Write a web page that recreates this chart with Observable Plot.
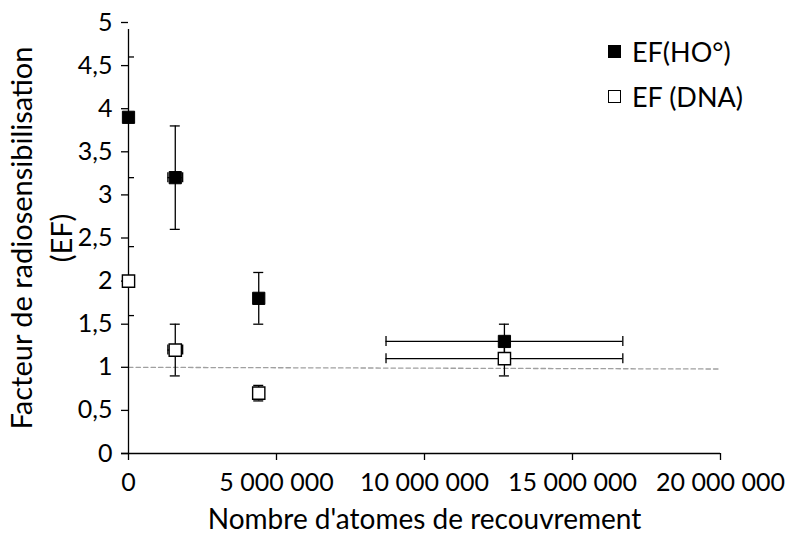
<!DOCTYPE html>
<html><head><meta charset="utf-8">
<script src="https://cdn.jsdelivr.net/npm/d3@7"></script>
<script src="https://cdn.jsdelivr.net/npm/@observablehq/plot@0.6"></script>
<style>
body{margin:0;background:#fff;font-family:Lato, sans-serif;}
#wrap{position:relative;width:785px;height:537px;overflow:hidden;}
.leg{position:absolute;left:608px;display:flex;align-items:center;font-size:27px;color:#000;height:27px;line-height:27px;white-space:nowrap;}
.sw{width:13px;height:13px;border:1.4px solid #000;margin-right:11px;box-sizing:border-box;}
</style></head><body><div id="wrap"></div>
<script>
// ---- data ----
const seriesNames = ["EF(HO°)", "EF (DNA)"];
const atoms = [0, 1580000, 4400000, 12700000];
const atomsErr = [0, 250000, 0, 4000000];
const efHO = [3.9, 3.2, 1.8, 1.3];
const efHOLow = [null, 2.6, 1.5, 1.1];
const efHOHigh = [null, 3.8, 2.1, 1.5];
const efDNA = [2.0, 1.2, 0.7, 1.1];
const efDNALow = [null, 0.9, 0.61, 0.9];
const efDNAHigh = [null, 1.5, 0.79, 1.3];
const yTicks = [0, 0.5, 1, 1.5, 2, 2.5, 3, 3.5, 4, 4.5, 5];
const xTicks = [0, 5000000, 10000000, 15000000, 20000000];
const minorYTicks = [4.6, 3.2, 2.4, 1.6];
const refLineX = [0, 20000000];
const refLineY = [1, 0.98];
const xTitle = "Nombre d'atomes de recouvrement";
const yTitle = ["Facteur de radiosensibilisation", "(EF)"];

// ---- build ----
const loc = d3.formatLocale({decimal: ",", thousands: " ", grouping: [3], currency: ["", ""]});
const fmtX = loc.format(",d");
const fmtY = d => loc.format(",")(d);

const pts = [];
atoms.forEach((x, i) => {
  pts.push({s: 0, x, xe: atomsErr[i], y: efHO[i], lo: efHOLow[i], hi: efHOHigh[i]});
  pts.push({s: 1, x, xe: atomsErr[i], y: efDNA[i], lo: efDNALow[i], hi: efDNAHigh[i]});
});
const vb = pts.filter(d => d.lo != null);
const hb = pts.filter(d => d.xe > 0);
const ref = refLineX.map((x, i) => ({x, y: refLineY[i]}));

const K = "#000";
const chart = Plot.plot({
  width: 785, height: 537,
  marginLeft: 128, marginRight: 65, marginTop: 22, marginBottom: 84,
  style: {fontFamily: "Lato, sans-serif", background: "#fff", color: "#000", overflow: "visible"},
  x: {domain: [0, 20000000]},
  y: {domain: [0, 5]},
  marks: [
    Plot.line(ref, {x: "x", y: "y", stroke: "#a0a0a0", strokeWidth: 1.3, strokeDasharray: "4.5,3"}),
    Plot.ruleX([0], {y1: 0, y2: 5, insetBottom: -7, stroke: K, strokeWidth: 1.3}),
    Plot.ruleY([0], {x1: 0, x2: 20000000, insetLeft: -7, stroke: K, strokeWidth: 1.3}),
    Plot.axisY({ticks: yTicks, tickSize: 7, tickPadding: 9, tickFormat: fmtY, fontSize: 25, label: null, strokeWidth: 1.3}),
    Plot.axisX({ticks: xTicks, tickSize: 7, tickPadding: 13, tickFormat: fmtX, fontSize: 25, label: null, strokeWidth: 1.3}),
    Plot.ruleY(minorYTicks, {x1: () => 0, x2: () => 0, insetRight: -6, stroke: K, strokeWidth: 1.3}),
    // error bars
    Plot.ruleY(hb, {y: "y", x1: d => d.x - d.xe, x2: d => d.x + d.xe, stroke: K, strokeWidth: 1.3}),
    Plot.ruleX(hb, {x: d => d.x - d.xe, y1: "y", y2: "y", insetTop: -5, insetBottom: -5, stroke: K, strokeWidth: 1.3}),
    Plot.ruleX(hb, {x: d => d.x + d.xe, y1: "y", y2: "y", insetTop: -5, insetBottom: -5, stroke: K, strokeWidth: 1.3}),
    Plot.ruleX(vb, {x: "x", y1: "lo", y2: "hi", stroke: K, strokeWidth: 1.3}),
    Plot.ruleY(vb, {y: "hi", x1: "x", x2: "x", insetLeft: -5, insetRight: -5, stroke: K, strokeWidth: 1.3}),
    Plot.ruleY(vb, {y: "lo", x1: "x", x2: "x", insetLeft: -5, insetRight: -5, stroke: K, strokeWidth: 1.3}),
    // markers
    Plot.dot(pts.filter(d => d.s === 0), {x: "x", y: "y", symbol: "square", r: 6.9, fill: K, stroke: K, strokeWidth: 1}),
    Plot.dot(pts.filter(d => d.s === 1), {x: "x", y: "y", symbol: "square", r: 6.9, fill: "#fff", stroke: K, strokeWidth: 1.4}),
    // titles
    Plot.text([xTitle], {text: d => d, frameAnchor: "bottom", dy: 67, textAnchor: "middle", lineAnchor: "middle", fontSize: 28, fill: K}),
    Plot.text([yTitle[0]], {text: d => d, frameAnchor: "left", rotate: -90, dx: -106, textAnchor: "middle", lineAnchor: "middle", fontSize: 29, fill: K}),
    Plot.text([yTitle[1]], {text: d => d, frameAnchor: "left", rotate: -90, dx: -66, textAnchor: "middle", lineAnchor: "middle", fontSize: 29, fill: K})
  ]
});
const wrap = document.getElementById("wrap");
wrap.appendChild(chart);
const legTops = [38, 83];
seriesNames.forEach((name, i) => {
  const row = document.createElement("div");
  row.className = "leg";
  row.style.top = legTops[i] + "px";
  const sw = document.createElement("div");
  sw.className = "sw";
  sw.style.background = i === 0 ? "#000" : "#fff";
  const t = document.createElement("span");
  t.textContent = name;
  row.appendChild(sw); row.appendChild(t);
  wrap.appendChild(row);
});
</script></body></html>
